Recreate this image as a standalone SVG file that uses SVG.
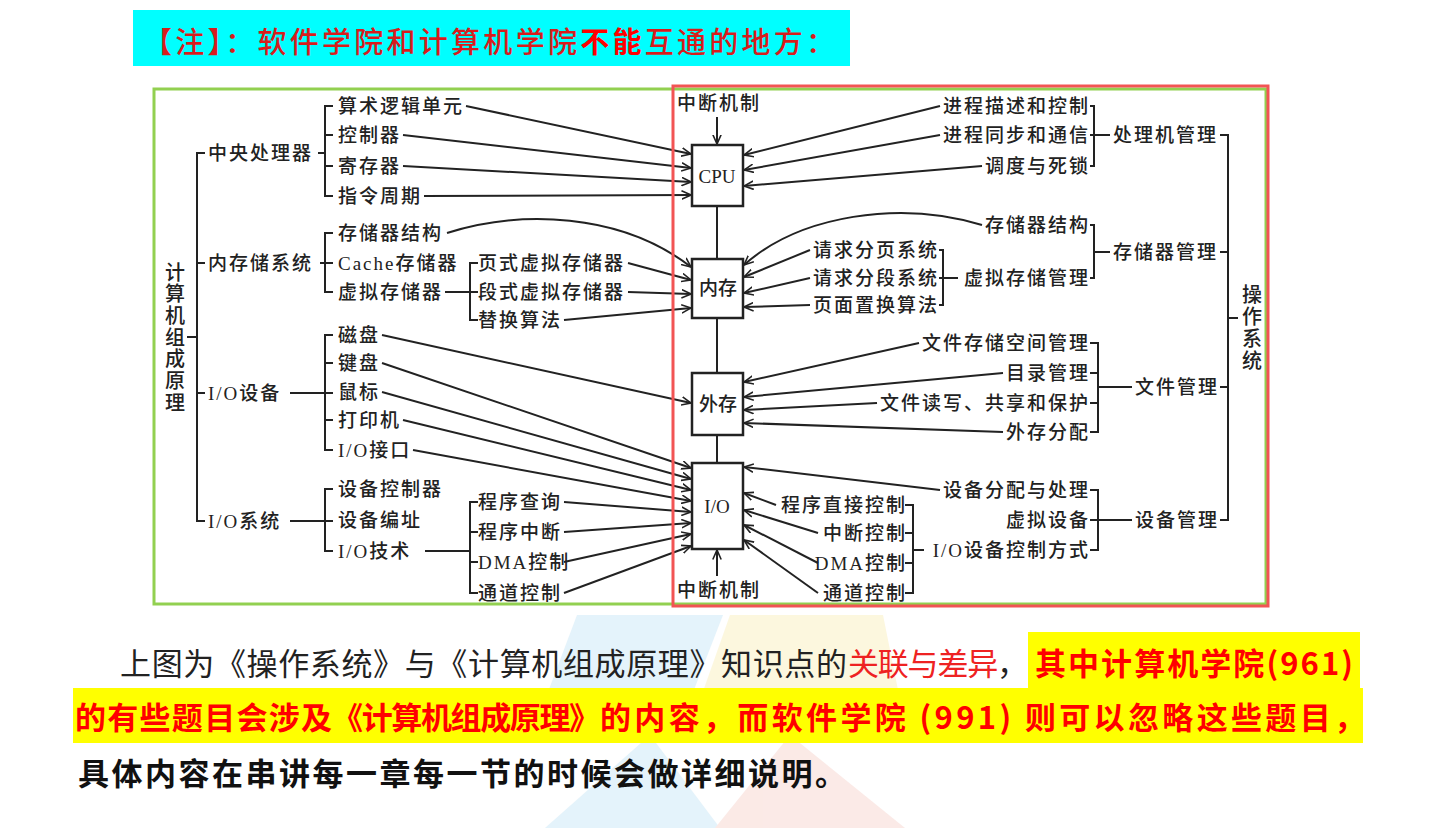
<svg xmlns="http://www.w3.org/2000/svg" width="1440" height="828" viewBox="0 0 1440 828">
<defs>
<marker id="ah" viewBox="0 0 10 10" refX="9.5" refY="5" markerWidth="10" markerHeight="10" markerUnits="userSpaceOnUse" orient="auto">
<path d="M0,0.8 L9.5,5 L0,9.2" fill="none" stroke="#222" stroke-width="1.6"/>
</marker>
<style>
.t{font-family:"Liberation Serif","Noto Sans CJK SC",serif;font-size:19px;fill:#222;letter-spacing:2px;font-weight:500}
.e{text-anchor:end}
.v{font-family:"Noto Sans CJK SC",sans-serif;font-size:20px;fill:#222;writing-mode:vertical-rl;font-weight:500}
.b{font-family:"Liberation Serif","Noto Sans CJK SC",serif;font-size:19px;fill:#222;text-anchor:middle;font-weight:500}
.ln{fill:none;stroke:#222;stroke-width:2}
.ar{fill:none;stroke:#222;stroke-width:2;marker-end:url(#ah)}
.box{fill:#fff;stroke:#222;stroke-width:2.5}
.p{font-family:"Noto Sans CJK SC",sans-serif;font-size:31px}
</style>
</defs>
<rect width="1440" height="828" fill="#fff"/>

<!-- faint background logo -->
<g id="logo" opacity="0.55">
<polygon points="577,615 723,615 690,700 545,700" fill="#cfeaf8"/>
<polygon points="730,615 883,615 900,700 700,700" fill="#fbf1c4"/>
<polygon points="650,735 720,828 545,828" fill="#cfeaf8"/>
<polygon points="790,735 905,828 715,828" fill="#f8d9d3"/>
</g>

<!-- title -->
<g id="title">
<rect x="133" y="10" width="717" height="56" fill="#00ffff"/>
<text x="143" y="53" font-family="Noto Sans CJK SC,sans-serif" font-size="29" font-weight="500" fill="#d81c1c" textLength="692" lengthAdjust="spacing">【注】：软件学院和计算机学院<tspan fill="#ff0000" font-weight="bold">不能</tspan>互通的地方：</text>
</g>

<!-- connectors -->
<g id="connectors">
<!-- left tree brackets -->
<path class="ln" d="M187,337 H197"/>
<path class="ln" d="M205,153 H197 V521 H205 M197,263 H205 M197,393 H205"/>
<path class="ln" d="M318,153 H325 M333,106 H325 V196 H333 M325,135 H333 M325,166 H333"/>
<path class="ln" d="M320,263 H333 M333,233 H325 V292 H333"/>
<path class="ln" d="M290,393 H333 M333,335 H325 V450 H333 M325,363 H333 M325,420 H333"/>
<path class="ln" d="M290,521 H333 M333,489 H325 V551 H333"/>
<path class="ln" d="M445,292 H478 M478,263 H470 V320 H478"/>
<path class="ln" d="M425,551 H470 M478,502 H470 V593 H478 M470,532 H478 M470,562 H478"/>
<!-- left arrows -->
<path class="ar" d="M466,106 L691,154"/>
<path class="ar" d="M403,135 L691,168"/>
<path class="ar" d="M403,166 L691,182"/>
<path class="ar" d="M424,196 L691,195"/>
<path class="ar" d="M447,233 C520,210 620,212 691,267"/>
<path class="ar" d="M628,263 L691,280"/>
<path class="ar" d="M628,292 L691,294"/>
<path class="ar" d="M564,320 L691,308"/>
<path class="ar" d="M382,335 L691,403"/>
<path class="ar" d="M382,363 L691,468"/>
<path class="ar" d="M382,392 L691,479"/>
<path class="ar" d="M403,420 L691,490"/>
<path class="ar" d="M413,450 L691,501"/>
<path class="ar" d="M564,502 L691,512"/>
<path class="ar" d="M564,532 L691,523"/>
<path class="ar" d="M564,562 L691,534"/>
<path class="ar" d="M564,593 L691,546"/>
<!-- centre column -->
<path class="ln" d="M717,206 V259 M717,318 V373 M717,435 V463"/>
<path class="ar" d="M717,117 V144"/>
<path class="ar" d="M717,576 V550"/>
<!-- right arrows -->
<path class="ar" d="M940,106 L744,155"/>
<path class="ar" d="M940,135 L744,170"/>
<path class="ar" d="M982,166 L744,186"/>
<path class="ar" d="M982,225 C900,200 800,215 744,265"/>
<path class="ar" d="M810,250 L744,277"/>
<path class="ar" d="M810,278 L744,293"/>
<path class="ar" d="M810,305 L744,307"/>
<path class="ar" d="M919,343 L744,382"/>
<path class="ar" d="M1003,373 L744,397"/>
<path class="ar" d="M877,403 L744,410"/>
<path class="ar" d="M1003,432 L744,423"/>
<path class="ar" d="M940,490 L744,467"/>
<path class="ar" d="M776,505 L744,493"/>
<path class="ar" d="M818,533 L744,510"/>
<path class="ar" d="M818,563 L744,525"/>
<path class="ar" d="M818,593 L744,540"/>
<!-- right tree brackets -->
<path class="ln" d="M1090,106 H1094 V166 H1090 M1090,135 H1110"/>
<path class="ln" d="M939,250 H943 V305 H939 M939,278 H958"/>
<path class="ln" d="M1090,225 H1094 V278 H1090 M1094,252 H1110"/>
<path class="ln" d="M1090,343 H1098 V432 H1090 M1090,373 H1098 M1090,403 H1098 M1098,387 H1132"/>
<path class="ln" d="M1090,490 H1098 V550 H1090 M1090,520 H1132"/>
<path class="ln" d="M905,505 H913 V593 H905 M905,533 H913 M905,563 H913 M913,550 H924"/>
<path class="ln" d="M1220,135 H1228 V520 H1220 M1220,252 H1228 M1220,387 H1228 M1228,318 H1238"/>
</g>

<!-- centre boxes -->
<g id="cpu"><rect class="box" x="692" y="145" width="51" height="61"/><text class="b" x="717" y="183">CPU</text></g>
<g id="neicun"><rect class="box" x="692" y="259" width="51" height="59"/><text class="b" x="718" y="295">内存</text></g>
<g id="waicun"><rect class="box" x="692" y="373" width="51" height="62"/><text class="b" x="718" y="411">外存</text></g>
<g id="io"><rect class="box" x="692" y="463" width="51" height="86"/><text class="b" x="717" y="513">I/O</text></g>
<g id="zdjz-top"><text class="t" x="677" y="110">中断机制</text></g>
<g id="zdjz-bottom"><text class="t" x="677" y="597">中断机制</text></g>

<!-- left tree -->
<g id="root-left"><text class="v" x="175" y="262" letter-spacing="1.7">计算机组成原理</text></g>
<g id="left-l1">
<text class="t" x="208" y="160">中央处理器</text>
<text class="t" x="208" y="270">内存储系统</text>
<text class="t" x="208" y="400">I/O设备</text>
<text class="t" x="208" y="528">I/O系统</text>
</g>
<g id="left-l2">
<text class="t" x="338" y="113">算术逻辑单元</text>
<text class="t" x="338" y="142">控制器</text>
<text class="t" x="338" y="173">寄存器</text>
<text class="t" x="338" y="203">指令周期</text>
<text class="t" x="338" y="240">存储器结构</text>
<text class="t" x="338" y="270">Cache存储器</text>
<text class="t" x="338" y="299">虚拟存储器</text>
<text class="t" x="338" y="342">磁盘</text>
<text class="t" x="338" y="370">键盘</text>
<text class="t" x="338" y="399">鼠标</text>
<text class="t" x="338" y="427">打印机</text>
<text class="t" x="338" y="457">I/O接口</text>
<text class="t" x="338" y="496">设备控制器</text>
<text class="t" x="338" y="527">设备编址</text>
<text class="t" x="338" y="558">I/O技术</text>
</g>
<g id="left-l3">
<text class="t" x="478" y="270">页式虚拟存储器</text>
<text class="t" x="478" y="299">段式虚拟存储器</text>
<text class="t" x="478" y="327">替换算法</text>
<text class="t" x="478" y="509">程序查询</text>
<text class="t" x="478" y="539">程序中断</text>
<text class="t" x="478" y="569">DMA控制</text>
<text class="t" x="478" y="600">通道控制</text>
</g>

<!-- right tree -->
<g id="root-right"><text class="v" x="1252" y="284" letter-spacing="2.2">操作系统</text></g>
<g id="right-l1">
<text class="t" x="1113" y="142">处理机管理</text>
<text class="t" x="1113" y="259">存储器管理</text>
<text class="t" x="1135" y="394">文件管理</text>
<text class="t" x="1135" y="527">设备管理</text>
</g>
<g id="right-l2">
<text class="t e" x="1090" y="113">进程描述和控制</text>
<text class="t e" x="1090" y="142">进程同步和通信</text>
<text class="t e" x="1090" y="173">调度与死锁</text>
<text class="t e" x="1090" y="232">存储器结构</text>
<text class="t e" x="1090" y="285">虚拟存储管理</text>
<text class="t e" x="1090" y="350">文件存储空间管理</text>
<text class="t e" x="1090" y="380">目录管理</text>
<text class="t e" x="1090" y="410">文件读写、共享和保护</text>
<text class="t e" x="1090" y="439">外存分配</text>
<text class="t e" x="1090" y="497">设备分配与处理</text>
<text class="t e" x="1090" y="527">虚拟设备</text>
<text class="t e" x="1090" y="557">I/O设备控制方式</text>
</g>
<g id="right-l3">
<text class="t e" x="939" y="257">请求分页系统</text>
<text class="t e" x="939" y="285">请求分段系统</text>
<text class="t e" x="939" y="312">页面置换算法</text>
<text class="t e" x="907" y="512">程序直接控制</text>
<text class="t e" x="907" y="540">中断控制</text>
<text class="t e" x="907" y="570">DMA控制</text>
<text class="t e" x="907" y="600">通道控制</text>
</g>

<!-- frames -->
<g id="frames">
<rect x="154" y="89" width="1112" height="515" fill="none" stroke="#92d050" stroke-width="3"/>
<rect x="673" y="86" width="595" height="520" fill="none" stroke="#f25454" stroke-width="3"/>
</g>

<!-- paragraph -->
<g id="paragraph">
<rect x="1028" y="632" width="332" height="57" fill="#ffff00"/>
<rect x="73" y="688" width="1290" height="55" fill="#ffff00"/>
<text class="p" x="120" y="675" fill="#222" textLength="727" lengthAdjust="spacing">上图为《操作系统》与《计算机组成原理》知识点的</text>
<text class="p" x="848" y="675" fill="#ee2222" textLength="180" lengthAdjust="spacing">关联与差异<tspan fill="#222">，</tspan></text>
<text class="p" x="1035" y="675" fill="#ff0000" font-weight="bold" textLength="318" lengthAdjust="spacing">其中计算机学院(961)</text>
<text class="p" x="75" y="729" fill="#ff0000" font-weight="bold" textLength="257" lengthAdjust="spacing">的有些题目会涉及</text>
<text class="p" x="332" y="729" fill="#ff0000" font-weight="bold" textLength="268" lengthAdjust="spacing">《计算机组成原理》</text>
<text class="p" x="600" y="729" fill="#ff0000" font-weight="bold" textLength="765" lengthAdjust="spacing">的内容，而软件学院 (991) 则可以忽略这些题目，</text>
<text class="p" x="78" y="785" fill="#111" font-weight="bold" textLength="768" lengthAdjust="spacing">具体内容在串讲每一章每一节的时候会做详细说明。</text>
</g>
</svg>
